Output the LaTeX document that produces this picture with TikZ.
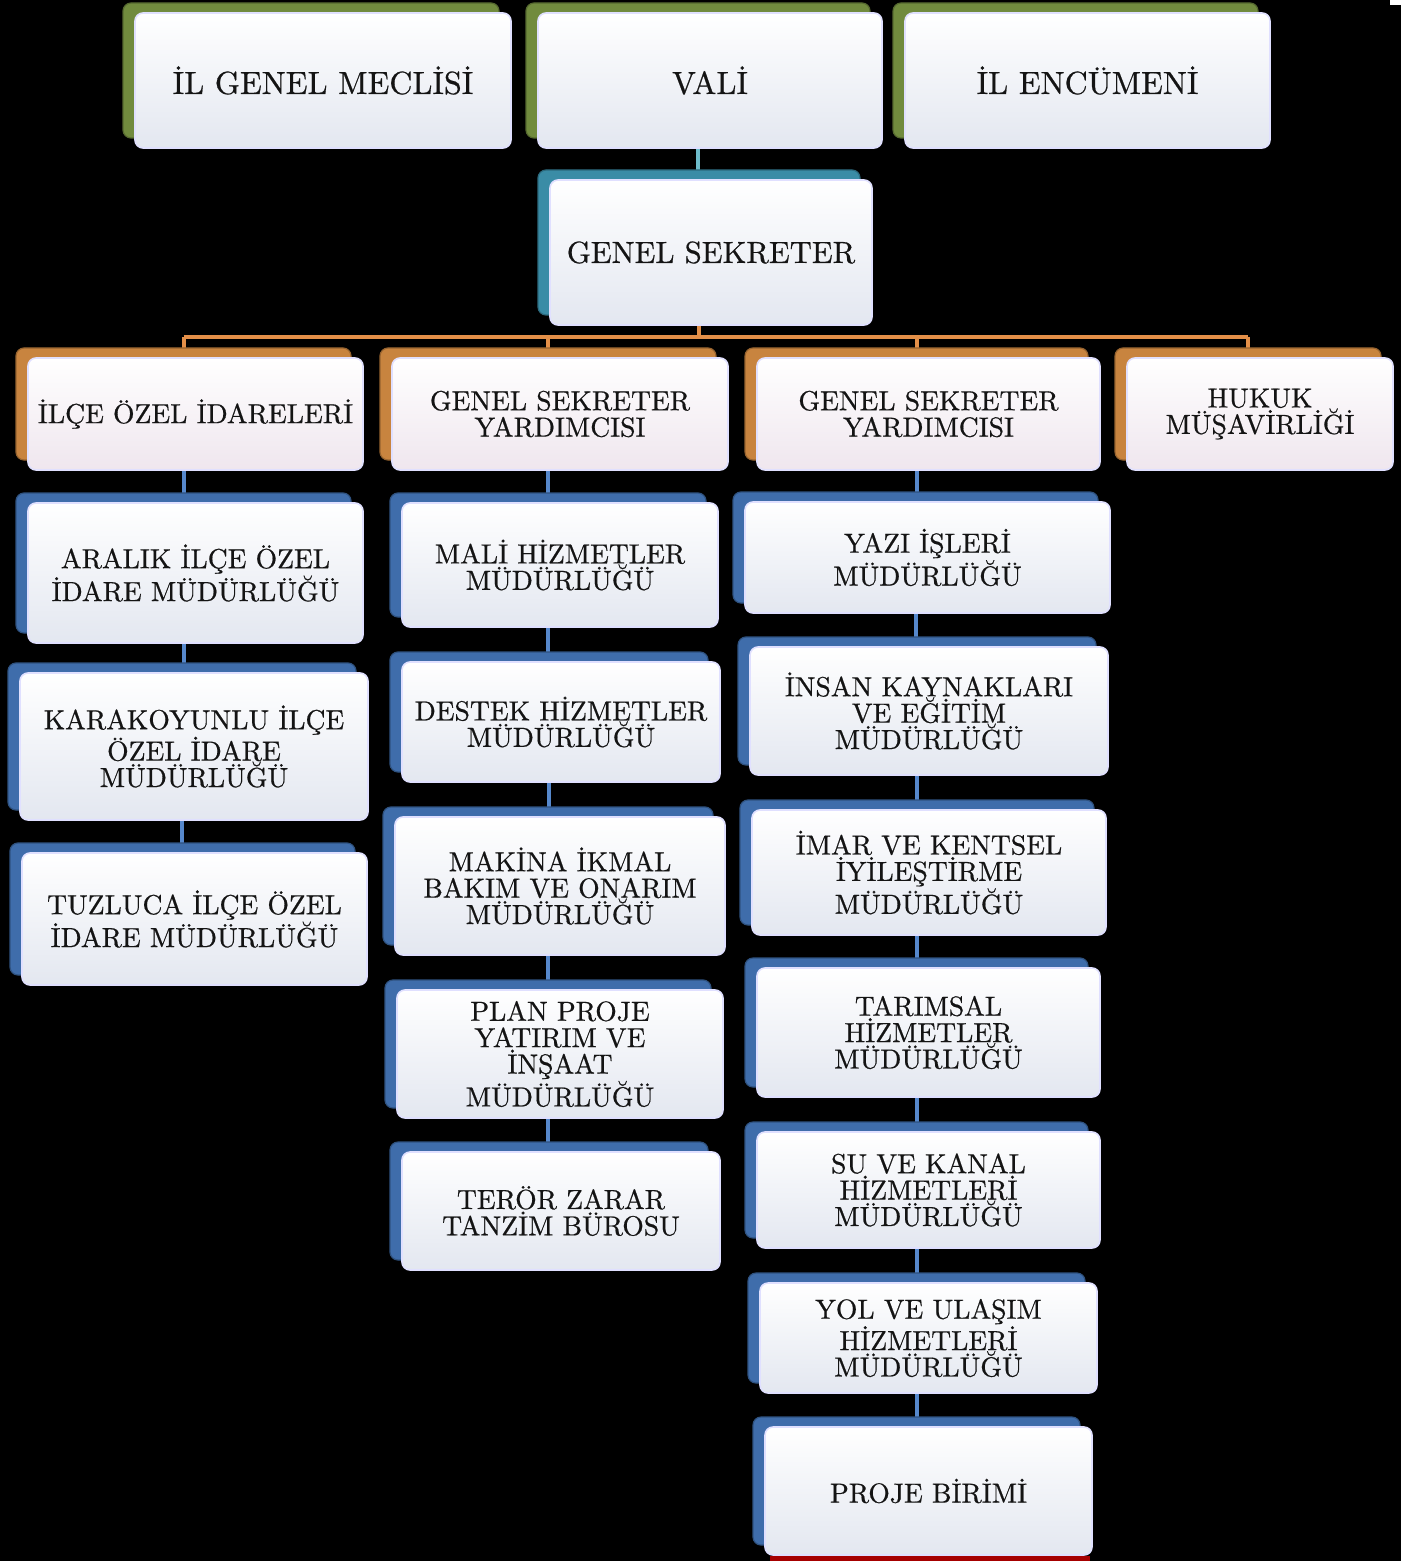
\documentclass[tikz,border=0pt]{standalone}
\usepackage{fontspec}
\setmainfont{lmroman10-regular.otf}[FakeBold=0.6]
\usetikzlibrary{backgrounds}

\definecolor{yesil}{HTML}{718B3E}
\definecolor{camgobegi}{HTML}{3A8CA6}
\definecolor{turuncu}{HTML}{C8843F}
\definecolor{mavi}{HTML}{3F6DAB}
\definecolor{acikcam}{HTML}{6DBCCB}
\definecolor{acikturuncu}{HTML}{E38F48}
\definecolor{acikmavi}{HTML}{5688CC}
\definecolor{zemin}{HTML}{E3E7F0}
\definecolor{pembezemin}{HTML}{EFE6EE}
\definecolor{yazirengi}{HTML}{141414}

% name, tab colour, extra style, x1, y1, x2, y2, text
\newcommand{\birim}[8]{%
  \node[arka=#2, minimum width={(#6-#4)*0.5pt}, minimum height={(#7-#5)*0.5pt}]
    (#1-b) at ({(#4+#6)/2-12},{(#5+#7)/2-10}) {};
  \node[on, #3, minimum width={(#6-#4)*0.5pt}, minimum height={(#7-#5)*0.5pt}]
    (#1) at ({(#4+#6)/2},{(#5+#7)/2}) {#8};
}

\begin{document}
\begin{tikzpicture}[x=0.5pt, y=-0.5pt,
    arka/.style={rounded corners=4pt, fill=#1, draw=#1!75!black, line width=0.6pt, inner sep=0pt},
    on/.style={rounded corners=4pt, top color=white, bottom color=zemin, draw=white!88!blue,
      line width=0.8pt, inner sep=0pt, align=center, text=yazirengi,
      font=\fontsize{13.8}{13.2}\selectfont},
    buyuk/.style={font=\fontsize{16}{16}\selectfont},
    orta/.style={font=\fontsize{15.3}{15.3}\selectfont},
    pembe/.style={bottom color=pembezemin},
    baglanti/.style={line width=2pt, draw=#1}]
    \useasboundingbox (0,0) rectangle (1411,1561);

    % ust sira
    \birim{meclis}{yesil}{buyuk}{135}{13}{511}{148}{İL GENEL MECLİSİ}
    \birim{vali}{yesil}{buyuk}{538}{13}{882}{148}{VALİ}
    \birim{encumen}{yesil}{buyuk}{905}{13}{1270}{148}{İL ENCÜMENİ}
    \birim{gs}{camgobegi}{orta}{550}{180}{872}{325}{GENEL SEKRETER}

    % ikinci sira
    \birim{ilce}{turuncu}{pembe}{28}{358}{363}{470}{İLÇE ÖZEL İDARELERİ}
    \birim{gsy1}{turuncu}{pembe}{392}{358}{728}{470}{GENEL SEKRETER\\YARDIMCISI}
    \birim{gsy2}{turuncu}{pembe}{757}{358}{1100}{470}{GENEL SEKRETER\\YARDIMCISI}
    \birim{hukuk}{turuncu}{pembe}{1127}{358}{1393}{470}{HUKUK\\MÜŞAVİRLİĞİ}

    % ilceler
    \birim{aralik}{mavi}{}{28}{503}{363}{643}{ARALIK İLÇE ÖZEL\\İDARE MÜDÜRLÜĞÜ}
    \birim{karakoyunlu}{mavi}{}{20}{673}{368}{820}{KARAKOYUNLU İLÇE\\ÖZEL İDARE\\MÜDÜRLÜĞÜ}
    \birim{tuzluca}{mavi}{}{22}{853}{367}{985}{TUZLUCA İLÇE ÖZEL\\İDARE MÜDÜRLÜĞÜ}

    % birinci yardimci
    \birim{mali}{mavi}{}{402}{503}{718}{627}{MALİ HİZMETLER\\MÜDÜRLÜĞÜ}
    \birim{destek}{mavi}{}{402}{662}{720}{782}{DESTEK HİZMETLER\\MÜDÜRLÜĞÜ}
    \birim{makina}{mavi}{}{395}{817}{725}{955}{MAKİNA İKMAL\\BAKIM VE ONARIM\\MÜDÜRLÜĞÜ}
    \birim{plan}{mavi}{}{397}{990}{723}{1118}{PLAN PROJE\\YATIRIM VE\\İNŞAAT\\MÜDÜRLÜĞÜ}
    \birim{teror}{mavi}{}{402}{1152}{720}{1270}{TERÖR ZARAR\\TANZİM BÜROSU}

    % ikinci yardimci
    \birim{yazi}{mavi}{}{745}{502}{1110}{613}{YAZI İŞLERİ\\MÜDÜRLÜĞÜ}
    \birim{insan}{mavi}{}{750}{647}{1108}{775}{İNSAN KAYNAKLARI\\VE EĞİTİM\\MÜDÜRLÜĞÜ}
    \birim{imar}{mavi}{}{752}{810}{1106}{935}{İMAR VE KENTSEL\\İYİLEŞTİRME\\MÜDÜRLÜĞÜ}
    \birim{tarim}{mavi}{}{757}{968}{1100}{1097}{TARIMSAL\\HİZMETLER\\MÜDÜRLÜĞÜ}
    \birim{su}{mavi}{}{757}{1132}{1100}{1248}{SU VE KANAL\\HİZMETLERİ\\MÜDÜRLÜĞÜ}
    \birim{yol}{mavi}{}{760}{1283}{1097}{1393}{YOL VE ULAŞIM\\HİZMETLERİ\\MÜDÜRLÜĞÜ}
    \birim{proje}{mavi}{}{765}{1427}{1092}{1555}{PROJE BİRİMİ}

    \begin{pgfonlayer}{background}
        \fill[black] (0,0) rectangle (1411,1561);
        \fill[white] (1401,0) rectangle (1411,1561);
        \fill[white] (1390,0) rectangle (1411,5);
        \fill[red!65!black] (770,1556) rectangle (1090,1561);

        \draw[baglanti=acikcam] (vali-b.center) -- (vali-b.center |- gs-b.center);

        \coordinate (bara) at (0,337);
        \draw[baglanti=acikturuncu] (gs-b.center) -- (gs-b.center |- bara);
        \draw[baglanti=acikturuncu] (ilce-b.center |- bara) -- (hukuk-b.center |- bara);
        \foreach \n in {ilce,gsy1,gsy2,hukuk}
            \draw[baglanti=acikturuncu] (\n-b.center |- bara) -- (\n-b.center);

        \foreach \a/\b in {ilce/aralik, aralik/karakoyunlu, karakoyunlu/tuzluca,
                gsy1/mali, mali/destek, destek/makina, makina/plan, plan/teror,
                gsy2/yazi, yazi/insan, insan/imar, imar/tarim, tarim/su, su/yol, yol/proje}
            \draw[baglanti=acikmavi] (\a-b.center) -- (\a-b.center |- \b-b.center);
    \end{pgfonlayer}
\end{tikzpicture}
\end{document}
